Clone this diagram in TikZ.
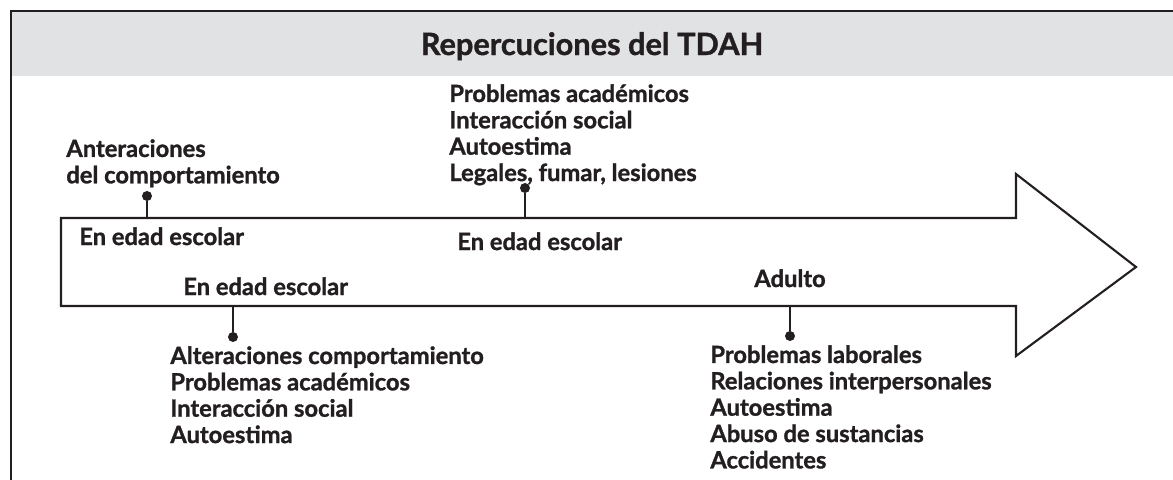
\documentclass[tikz,border=0pt]{standalone}
\usepackage{fontspec}
\setmainfont{Lato}[BoldFeatures={FakeBold=1.2}]
\usetikzlibrary{positioning,calc}
\definecolor{ink}{HTML}{231F20}
\definecolor{band}{HTML}{E1E2E3}
\begin{document}
\begin{tikzpicture}[x=0.02cm,y=-0.02cm,
  lbl/.style={text=ink, font=\fontsize{13.5}{15}\selectfont\bfseries, inner sep=0pt},
  lst/.style={lbl, align=left, anchor=north west},
  dot/.style={circle, fill=ink, inner sep=0pt, minimum size=5.7pt},
  stem/.style={draw=ink, line width=1.2pt},
]
\useasboundingbox (0,0) rectangle (1173,480);
% header band and frame
\fill[band] (11,11) rectangle (1173,76);
\draw[ink, line width=1.5pt] (1173,11) -- (11,11) -- (11,480);
\node[text=ink, font=\fontsize{17.5}{20}\selectfont\bfseries, anchor=base] (title) at (592,55) {Repercuciones del TDAH};
% timeline arrow
\draw[ink, line width=1.2pt, miter limit=20] (61,218) -- (1016,218) -- (1016,174) -- (1136,267) -- (1016,356) -- (1016,306) -- (61,306) -- cycle;
% stage labels inside the arrow
\node[lbl, anchor=base west] (esc1) at (79,245) {En edad escolar};
\node[lbl, anchor=base west] (esc2) at (183,295) {En edad escolar};
\node[lbl, anchor=base west] (esc3) at (457,250) {En edad escolar};
\node[lbl, anchor=base west] (adu) at (754,287) {Adulto};
% pins above the arrow
\coordinate (a1) at (147,218);
\node[dot] (d1) at (147,196) {};
\draw[stem] (a1) -- (d1);
\node[lst] (comp) at (66,139) {Anteraciones\\del comportamiento};
\coordinate (a2) at (525,218);
\node[dot] (d2) at (525,188) {};
\draw[stem] (a2) -- (d2);
\node[lst] (ado) at (449,84) {Problemas académicos\\Interacción social\\Autoestima\\Legales, fumar, lesiones};
% pins below the arrow
\coordinate (b1) at (233,306);
\node[dot] (d3) at (233,337) {};
\draw[stem] (b1) -- (d3);
\node[lst] (nin) at (170,346) {Alteraciones comportamiento\\Problemas académicos\\Interacción social\\Autoestima};
\coordinate (b2) at (790,306);
\node[dot] (d4) at (790,336) {};
\draw[stem] (b2) -- (d4);
\node[lst] (adl) at (710,345) {Problemas laborales\\Relaciones interpersonales\\Autoestima\\Abuso de sustancias\\Accidentes};
\end{tikzpicture}
\end{document}
